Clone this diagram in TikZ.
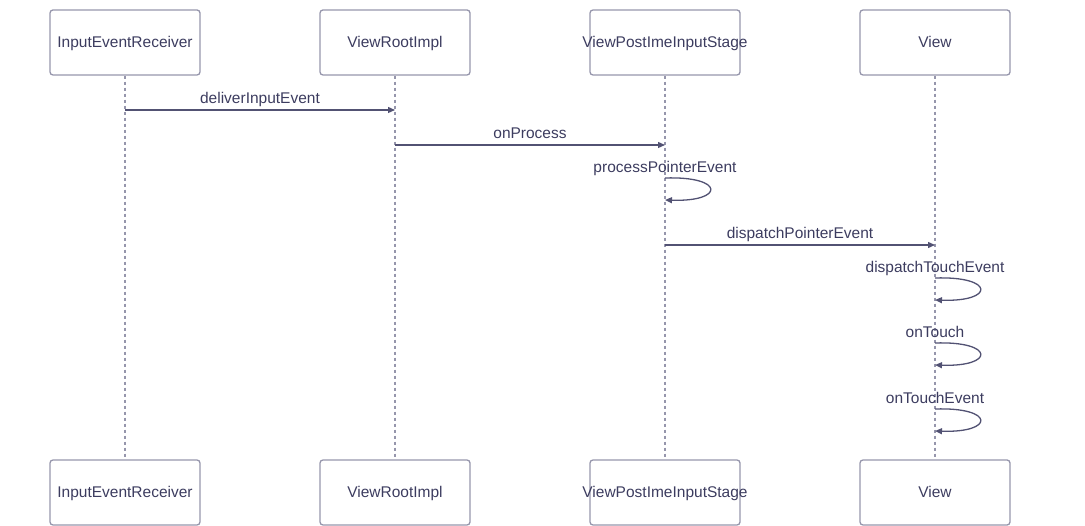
\documentclass[tikz,border=0pt]{standalone}
\usepackage{fontspec}
\setmainfont{Liberation Sans}
\usetikzlibrary{arrows.meta}
\definecolor{boxline}{RGB}{150,150,172}
\definecolor{msgline}{RGB}{82,82,115}
\definecolor{msgtext}{RGB}{60,60,95}

\begin{document}
\begin{tikzpicture}[x=1pt,y=-1pt,
    actor/.style={draw=boxline,line width=1.3pt,rounded corners=3pt,
        minimum width=150pt,minimum height=65pt,inner sep=0pt,
        text height=11pt,text depth=1pt,
        text=msgtext,font=\fontsize{15.5}{18}\selectfont},
    lifeline/.style={boxline,line width=1.3pt,dash pattern=on 3pt off 3pt},
    msg/.style={msgline,line width=1.3pt,-{Triangle[length=7pt,width=6pt]}},
    call/.style={text=msgtext,font=\fontsize{15.5}{18}\selectfont,inner sep=2pt,
        text height=11pt,text depth=3pt},
    ]
    \useasboundingbox (0,0) rectangle (1085,526);

    % Actors on top
    \node[actor] (recvtop) at (125,42.5) {InputEventReceiver};
    \node[actor] (roottop) at (395,42.5) {ViewRootImpl};
    \node[actor] (stagetop) at (665,42.5) {\makebox[0pt]{ViewPostImeInputStage}};
    \node[actor] (viewtop) at (935,42.5) {View};

    % Actors at the bottom
    \node[actor] (recvbot) at (125,492.5) {InputEventReceiver};
    \node[actor] (rootbot) at (395,492.5) {ViewRootImpl};
    \node[actor] (stagebot) at (665,492.5) {\makebox[0pt]{ViewPostImeInputStage}};
    \node[actor] (viewbot) at (935,492.5) {View};

    % Lifelines
    \draw[lifeline] (recvtop) -- (recvbot);
    \draw[lifeline] (roottop) -- (rootbot);
    \draw[lifeline] (stagetop) -- (stagebot);
    \draw[lifeline] (viewtop) -- (viewbot);

    % Message points
    \coordinate (deliverA) at (125,110);
    \coordinate (deliverB) at (395,110);
    \coordinate (processA) at (395,145);
    \coordinate (processB) at (665,145);
    \coordinate (pointerA) at (665,178);
    \coordinate (pointerB) at (665,200);
    \coordinate (dispatchA) at (665,245);
    \coordinate (dispatchB) at (935,245);
    \coordinate (touchA) at (935,278);
    \coordinate (touchB) at (935,300);
    \coordinate (ontouchA) at (935,343);
    \coordinate (ontouchB) at (935,365);
    \coordinate (eventA) at (935,409);
    \coordinate (eventB) at (935,431);

    % Calls between actors
    \draw[msg] (deliverA) -- (deliverB)
        node[call,midway,above=1pt] {deliverInputEvent};
    \draw[msg] (processA) -- (processB)
        node[call,midway,above=1pt] {onProcess};
    \draw[msg] (dispatchA) -- (dispatchB)
        node[call,midway,above=1pt] {dispatchPointerEvent};

    % Self calls
    \draw[msg] (pointerA) .. controls ++(60,-2) and ++(60,2) .. (pointerB);
    \node[call,above=0pt] at (pointerA) {processPointerEvent};
    \draw[msg] (touchA) .. controls ++(60,-2) and ++(60,2) .. (touchB);
    \node[call,above=0pt] at (touchA) {dispatchTouchEvent};
    \draw[msg] (ontouchA) .. controls ++(60,-2) and ++(60,2) .. (ontouchB);
    \node[call,above=0pt] at (ontouchA) {onTouch};
    \draw[msg] (eventA) .. controls ++(60,-2) and ++(60,2) .. (eventB);
    \node[call,above=0pt] at (eventA) {onTouchEvent};

\end{tikzpicture}
\end{document}
